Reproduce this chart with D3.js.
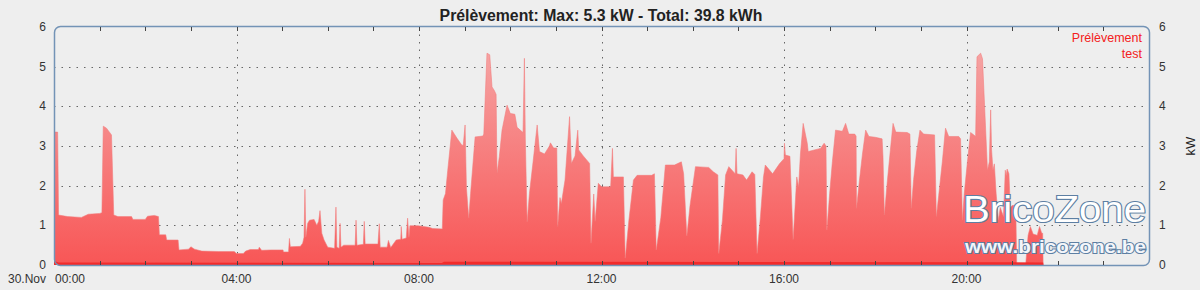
<!DOCTYPE html>
<html>
<head>
<meta charset="utf-8">
<script src="https://cdn.jsdelivr.net/npm/d3@7"></script>
<style>
  body { margin: 0; background: #eeeeee; }
  svg { display: block; font-family: "Liberation Sans", Arial, sans-serif; }
</style>
</head>
<body>
<svg id="chart" width="1200" height="290"></svg>
<script>
// chart texts
var chart_title = "Prélèvement: Max: 5.3 kW - Total: 39.8 kWh";
var series_names = ["Prélèvement", "test"];
var day_label = "30.Nov";
var unit_label = "kW";
var y_ticks = [0, 1, 2, 3, 4, 5, 6];
var grid_hours = [4, 8, 12, 16, 20];
var label_hours = [0, 4, 8, 12, 16, 20];

// power drawn, [hour of day, kW]
var prelevement = [
  [0.00, 3.35], [0.08, 3.35], [0.10, 1.26], [0.30, 1.22], [0.60, 1.20], [0.75, 1.28],
  [1.00, 1.30], [1.05, 1.32], [1.08, 3.50], [1.15, 3.45], [1.26, 3.28], [1.31, 1.26],
  [1.40, 1.22], [1.70, 1.22], [1.73, 1.15], [2.00, 1.15], [2.05, 1.23], [2.20, 1.25],
  [2.29, 1.22], [2.31, 0.76], [2.45, 0.76], [2.47, 0.63], [2.72, 0.63], [2.74, 0.38],
  [2.95, 0.40], [3.00, 0.46], [3.08, 0.40], [3.24, 0.35], [3.60, 0.34], [3.95, 0.34],
  [4.00, 0.29], [4.15, 0.29], [4.20, 0.35], [4.30, 0.39], [4.48, 0.39], [4.50, 0.45],
  [4.55, 0.37], [4.75, 0.38], [5.02, 0.38], [5.03, 0.33], [5.14, 0.33], [5.16, 0.67],
  [5.18, 0.46], [5.40, 0.47], [5.45, 0.55], [5.48, 0.70], [5.50, 1.91], [5.52, 0.70],
  [5.56, 1.05], [5.60, 1.13], [5.70, 1.15], [5.76, 1.00], [5.80, 1.10], [5.83, 1.37],
  [5.87, 0.80], [5.92, 0.63], [6.00, 0.45], [6.15, 0.42], [6.18, 1.46], [6.20, 0.45],
  [6.25, 0.42], [6.27, 1.05], [6.29, 0.45], [6.35, 0.50], [6.60, 0.50], [6.62, 1.13],
  [6.64, 0.50], [6.78, 0.52], [6.80, 1.10], [6.82, 0.53], [7.10, 0.53], [7.13, 1.04],
  [7.15, 0.45], [7.30, 0.45], [7.33, 0.62], [7.38, 0.44], [7.50, 0.63], [7.60, 0.65],
  [7.61, 0.97], [7.63, 0.65], [7.72, 0.68], [7.75, 1.18], [7.78, 0.70], [7.80, 0.99],
  [7.98, 0.99], [8.10, 0.97], [8.22, 0.95], [8.30, 0.92], [8.51, 0.91], [8.53, 1.64],
  [8.58, 1.80], [8.63, 2.39], [8.72, 3.40], [8.83, 3.20], [8.94, 3.02], [8.97, 3.02],
  [9.01, 3.53], [9.04, 1.94], [9.09, 1.18], [9.13, 1.80], [9.23, 3.23], [9.40, 3.25],
  [9.42, 3.30], [9.49, 5.34], [9.55, 5.30], [9.60, 4.49], [9.65, 4.40], [9.69, 4.30],
  [9.71, 2.31], [9.76, 2.73], [9.82, 3.40], [9.93, 4.03], [10.00, 3.82], [10.10, 3.80],
  [10.15, 3.47], [10.28, 3.34], [10.31, 5.21], [10.33, 3.20], [10.37, 1.09], [10.42, 1.80],
  [10.50, 2.60], [10.59, 3.53], [10.64, 2.86], [10.75, 2.80], [10.86, 3.00], [10.88, 3.08],
  [10.95, 2.95], [11.02, 2.95], [11.04, 0.97], [11.09, 1.70], [11.12, 1.55], [11.20, 2.14],
  [11.30, 3.74], [11.34, 2.56], [11.42, 2.75], [11.48, 3.40], [11.50, 2.90], [11.60, 2.75],
  [11.74, 2.56], [11.77, 0.55], [11.83, 1.79], [11.86, 1.10], [11.93, 2.06], [12.00, 1.97],
  [12.20, 1.97], [12.24, 2.94], [12.26, 2.22], [12.48, 2.22], [12.52, 0.17], [12.60, 1.13],
  [12.70, 2.14], [12.78, 2.26], [13.10, 2.26], [13.16, 2.30], [13.20, 0.38], [13.30, 1.20],
  [13.40, 2.52], [13.60, 2.52], [13.75, 2.60], [13.80, 2.30], [13.87, 0.73], [13.94, 1.50],
  [14.06, 2.48], [14.35, 2.46], [14.45, 2.35], [14.55, 2.27], [14.57, 0.29], [14.65, 1.13],
  [14.72, 2.27], [14.79, 2.48], [14.93, 2.30], [14.95, 2.94], [14.97, 2.30], [15.10, 2.27],
  [15.18, 2.14], [15.30, 2.35], [15.36, 2.28], [15.41, 0.29], [15.48, 1.18], [15.55, 2.22],
  [15.59, 2.52], [15.75, 2.30], [15.90, 2.55], [16.00, 2.68], [16.01, 3.07], [16.03, 2.77],
  [16.13, 2.74], [16.20, 0.64], [16.28, 2.22], [16.32, 1.97], [16.36, 2.80], [16.42, 3.57],
  [16.51, 3.07], [16.53, 2.86], [16.80, 2.94], [16.88, 3.07], [16.92, 3.00], [16.94, 0.88],
  [17.00, 1.80], [17.06, 2.60], [17.13, 3.40], [17.28, 3.37], [17.35, 3.57], [17.42, 3.30],
  [17.55, 3.30], [17.58, 3.25], [17.59, 1.43], [17.65, 2.10], [17.72, 2.80], [17.79, 3.40],
  [17.86, 3.24], [18.00, 3.22], [18.15, 3.18], [18.17, 2.72], [18.20, 1.26], [18.26, 2.06],
  [18.33, 2.88], [18.39, 3.57], [18.45, 3.35], [18.70, 3.34], [18.76, 3.30], [18.79, 1.43],
  [18.84, 2.15], [18.91, 2.88], [18.98, 3.40], [19.06, 3.30], [19.30, 3.28], [19.34, 1.22],
  [19.39, 1.75], [19.47, 2.60], [19.54, 3.45], [19.61, 3.24], [19.83, 3.24], [19.87, 3.18],
  [19.91, 1.13], [19.95, 1.80], [20.02, 2.60], [20.09, 3.34], [20.16, 3.28], [20.20, 3.24],
  [20.23, 5.25], [20.31, 5.34], [20.35, 5.20], [20.42, 3.40], [20.46, 2.39], [20.50, 2.60],
  [20.53, 3.91], [20.55, 2.90], [20.58, 2.39], [20.61, 2.55], [20.65, 1.80], [20.70, 1.13],
  [20.74, 1.45], [20.81, 1.22], [20.85, 2.39], [20.87, 2.25], [20.89, 2.42], [20.93, 2.30],
  [20.96, 1.45], [21.00, 1.50], [21.08, 1.50], [21.10, 0.05], [21.30, 0.05], [21.35, 0.75],
  [21.40, 0.97], [21.46, 0.78], [21.55, 0.75], [21.60, 0.97], [21.65, 0.80], [21.67, 0.80],
  [21.68, 0.00]
];

// second series, stays near zero
var test = [
  [0.00, 0.10], [0.10, 0.06], [8.50, 0.05], [8.55, 0.08], [21.10, 0.07], [21.68, 0.06], [21.69, 0.00]
];

var svg = d3.select("#chart");
var W = 1200, H = 290;
var plotLeft = 54, plotRight = 1149, plotTop = 27, plotBottom = 265;

svg.append("rect").attr("width", W).attr("height", H).attr("fill", "#eeeeee");

var x = d3.scaleLinear().domain([0, 24]).range([plotLeft, plotRight]);
var y = d3.scaleLinear().domain([0, 6]).range([plotBottom, plotTop]);

var defs = svg.append("defs");
var grad = defs.append("linearGradient")
    .attr("id", "fillGrad")
    .attr("gradientUnits", "userSpaceOnUse")
    .attr("x1", 0).attr("x2", 0)
    .attr("y1", y(6)).attr("y2", y(0));
grad.append("stop").attr("offset", "0%").attr("stop-color", "#f5acac");
grad.append("stop").attr("offset", "100%").attr("stop-color", "#f85656");

defs.append("clipPath").attr("id", "plotClip")
  .append("rect")
    .attr("x", plotLeft).attr("y", plotTop)
    .attr("width", plotRight - plotLeft).attr("height", plotBottom - plotTop);

// grid
var grid = svg.append("g");
grid.selectAll("line.h").data(y_ticks.filter(d => d > 0 && d < 6))
  .enter().append("line")
    .attr("x1", plotLeft).attr("x2", plotRight)
    .attr("y1", d => Math.round(y(d)) + 0.5).attr("y2", d => Math.round(y(d)) + 0.5)
    .attr("stroke", "#666").attr("stroke-width", 1)
    .attr("stroke-dasharray", "1.5,6");
grid.selectAll("line.v").data(grid_hours)
  .enter().append("line")
    .attr("x1", d => Math.round(x(d)) + 0.5).attr("x2", d => Math.round(x(d)) + 0.5)
    .attr("y1", plotTop).attr("y2", plotBottom)
    .attr("stroke", "#666").attr("stroke-width", 1)
    .attr("stroke-dasharray", "1.5,6");

// series
var plot = svg.append("g").attr("clip-path", "url(#plotClip)");
var area = d3.area()
    .x(d => x(d[0]))
    .y0(y(0))
    .y1(d => y(d[1]));

plot.append("path")
    .datum(prelevement)
    .attr("d", area)
    .attr("fill", "url(#fillGrad)")
    .attr("stroke", "#f27a7a")
    .attr("stroke-width", 0.8)
    .attr("stroke-opacity", 0.7);

plot.append("path")
    .datum(test)
    .attr("d", area)
    .attr("fill", "#f02020")
    .attr("fill-opacity", 0.8);

// frame
svg.append("rect")
    .attr("x", plotLeft + 0.5).attr("y", plotTop - 0.5)
    .attr("width", plotRight - plotLeft).attr("height", plotBottom - plotTop + 1)
    .attr("rx", 6).attr("ry", 6)
    .attr("fill", "none")
    .attr("stroke", "#7393b6")
    .attr("stroke-width", 1.5);

// hourly ticks top and bottom
var hours = d3.range(1, 24);
var ticks = svg.append("g").attr("stroke", "#444").attr("stroke-width", 1);
ticks.selectAll("line.t").data(hours).enter().append("line")
    .attr("x1", d => Math.round(x(d)) + 0.5).attr("x2", d => Math.round(x(d)) + 0.5)
    .attr("y1", plotTop).attr("y2", plotTop + 4);
ticks.selectAll("line.b").data(hours).enter().append("line")
    .attr("x1", d => Math.round(x(d)) + 0.5).attr("x2", d => Math.round(x(d)) + 0.5)
    .attr("y1", plotBottom - 4).attr("y2", plotBottom);

// y labels both sides
var ylab = svg.append("g").attr("font-size", 12).attr("fill", "#333");
ylab.selectAll("text.l").data(y_ticks).enter().append("text")
    .attr("x", 46).attr("y", d => y(d) + 4)
    .attr("text-anchor", "end")
    .text(d => d);
ylab.selectAll("text.r").data(y_ticks).enter().append("text")
    .attr("x", 1159).attr("y", d => y(d) + 4)
    .attr("text-anchor", "start")
    .text(d => d);

svg.append("text")
    .attr("transform", "translate(1195," + ((plotTop + plotBottom) / 2) + ") rotate(-90)")
    .attr("text-anchor", "middle")
    .attr("font-size", 13).attr("fill", "#222")
    .text(unit_label);

// x labels
var xlab = svg.append("g").attr("font-size", 12).attr("fill", "#333");
xlab.selectAll("text").data(label_hours).enter().append("text")
    .attr("x", d => d === 0 ? x(d) + 1 : x(d))
    .attr("y", 283)
    .attr("text-anchor", d => d === 0 ? "start" : "middle")
    .text(d => d3.format("02")(d) + ":00");
xlab.append("text")
    .attr("x", 46).attr("y", 283)
    .attr("text-anchor", "end")
    .text(day_label);

// title
svg.append("text")
    .attr("x", 601).attr("y", 21)
    .attr("text-anchor", "middle")
    .attr("font-size", 15.8).attr("font-weight", "bold").attr("fill", "#222")
    .text(chart_title);

// legend
var leg = svg.append("g").attr("font-size", 12.5).attr("fill", "#f42020").attr("text-anchor", "end");
leg.selectAll("text").data(series_names).enter().append("text")
    .attr("x", 1142).attr("y", (d, i) => 42 + i * 15.5)
    .text(d => d);

// watermark
svg.append("text")
    .attr("x", 1146).attr("y", 222)
    .attr("text-anchor", "end")
    .attr("font-size", 37)
    .attr("textLength", 183).attr("lengthAdjust", "spacingAndGlyphs")
    .attr("fill", "#ffffff").attr("stroke", "#5d7fa3").attr("stroke-width", 2.2)
    .attr("paint-order", "stroke")
    .text("BricoZone");
svg.append("text")
    .attr("x", 1146).attr("y", 253)
    .attr("text-anchor", "end")
    .attr("font-size", 19).attr("font-weight", "bold")
    .attr("textLength", 181).attr("lengthAdjust", "spacingAndGlyphs")
    .attr("fill", "#f4f6fa").attr("stroke", "#5d7fa3").attr("stroke-width", 2)
    .attr("paint-order", "stroke")
    .text("www.bricozone.be");
</script>
</body>
</html>
